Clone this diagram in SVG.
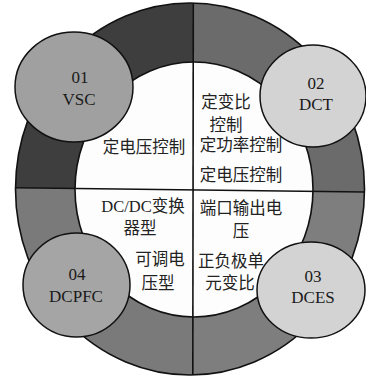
<svg xmlns="http://www.w3.org/2000/svg" width="366" height="380" viewBox="0 0 366 380">
<style>
.ln{stroke:#111;stroke-width:1.6}
.node{stroke:#111;stroke-width:1.5}
.lab{font-family:'Liberation Serif','Times New Roman',Tinos,'DejaVu Serif',serif;font-size:17px;fill:#1a1a1a;text-anchor:middle}
.cj{font-family:'Liberation Serif','Times New Roman','Noto Sans CJK SC',serif;font-size:16.5px;fill:#222;text-anchor:middle}
</style>
<defs>
<clipPath id="oc"><ellipse cx="190" cy="189" rx="174.5" ry="186"/></clipPath>
</defs>
<g id="ring" clip-path="url(#oc)">
<polygon points="0,0 193,0 193,190 0,187.5" fill="#3e3e3e"/>
<polygon points="193,0 366,0 366,192 193,190" fill="#6b6b6b"/>
<polygon points="0,187.5 193,190 193,380 0,380" fill="#7a7a7a"/>
<polygon points="193,190 366,192 366,380 193,380" fill="#7e7e7e"/>
</g>
<ellipse cx="190" cy="189" rx="174.5" ry="186" class="ln" fill="none"/>
<ellipse id="inner" cx="194" cy="189.5" rx="119" ry="127.5" fill="#fdfdfd" class="ln"/>
<g id="connectors">
<line x1="15" y1="187.7" x2="364" y2="192" class="ln" stroke-width="2"/>
<line x1="193.3" y1="3" x2="192.8" y2="375" class="ln" stroke-width="2"/>
</g>
<g id="texts">
<text class="cj" x="144" y="153">定电压控制</text>
<text class="cj" x="226" y="108">定变比</text>
<text class="cj" x="226" y="131">控制</text>
<text class="cj" x="241" y="151">定功率控制</text>
<text class="cj" x="241" y="181">定电压控制</text>
<text class="cj" x="143" y="212">DC/DC变换</text>
<text class="cj" x="140" y="234">器型</text>
<text class="cj" x="160" y="265">可调电</text>
<text class="cj" x="158" y="289">压型</text>
<text class="cj" x="241" y="214">端口输出电</text>
<text class="cj" x="241" y="237">压</text>
<text class="cj" x="231" y="267">正负极单</text>
<text class="cj" x="230" y="289">元变比</text>
</g>
<g id="n01">
<ellipse cx="74" cy="87" rx="59" ry="55" fill="#a0a0a0" class="node"/>
<text class="lab" x="80" y="83">01</text>
<text class="lab" x="79" y="105">VSC</text>
</g>
<g id="n02">
<ellipse cx="313" cy="96" rx="53" ry="51" fill="#d3d3d3" class="node"/>
<text class="lab" x="316" y="89">02</text>
<text class="lab" x="316" y="110">DCT</text>
</g>
<g id="n03">
<ellipse cx="311" cy="290" rx="54" ry="48" fill="#d3d3d3" class="node"/>
<text class="lab" x="313" y="282">03</text>
<text class="lab" x="313" y="303">DCES</text>
</g>
<g id="n04">
<ellipse cx="76.5" cy="285" rx="53.5" ry="52" fill="#a5a5a5" class="node"/>
<text class="lab" x="77" y="280">04</text>
<text class="lab" x="76" y="302">DCPFC</text>
</g>
</svg>
